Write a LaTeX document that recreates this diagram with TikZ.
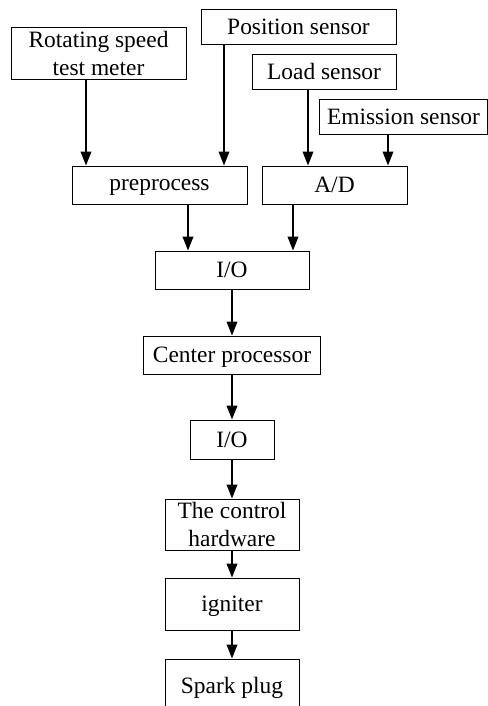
\documentclass[tikz,border=0pt]{standalone}
\usepackage{fontspec}
\setmainfont{Liberation Serif}
\usetikzlibrary{arrows.meta, positioning}

\begin{document}
\begin{tikzpicture}[x=0.03cm, y=-0.03cm,
    box/.style={draw, line width=0.7pt, inner sep=0pt, align=center, text depth=0pt,
      font=\fontsize{20}{24}\selectfont},
    arr/.style={line width=1.7pt, -{Triangle[length=12pt, width=9pt]}}]
        \clip (0,0) rectangle (488,706);
        % sensors on top
        \node[box, minimum width=175*0.03cm, minimum height=52*0.03cm] (rot) at (98.5,53) {Rotating speed\\test meter};
        \node[box, minimum width=195*0.03cm, minimum height=35*0.03cm] (pos) at (298.5,26.5) {Position sensor};
        \node[box, minimum width=144*0.03cm, minimum height=35*0.03cm] (load) at (324,71.5) {Load sensor};
        \node[box, minimum width=168*0.03cm, minimum height=35*0.03cm] (emis) at (403.5,116.5) {Emission sensor};
        % conversion
        \node[box, minimum width=175*0.03cm, minimum height=38*0.03cm] (pre) at (159.5,185) {preprocess};
        \node[box, minimum width=145*0.03cm, minimum height=38*0.03cm] (ad) at (334.5,185) {A/D};
        % processing chain
        \node[box, minimum width=154*0.03cm, minimum height=38*0.03cm] (io1) at (232,270) {I/O};
        \node[box, minimum width=177*0.03cm, minimum height=38*0.03cm] (cpu) at (232,355) {Center processor};
        \node[box, minimum width=84*0.03cm, minimum height=39*0.03cm] (io2) at (232,439.5) {I/O};
        \node[box, minimum width=134*0.03cm, minimum height=51*0.03cm] (hw) at (232,524.5) {The control\\hardware};
        \node[box, minimum width=134*0.03cm, minimum height=52*0.03cm] (ign) at (232,604) {igniter};
        \node[box, minimum width=134*0.03cm, minimum height=52*0.03cm] (plug) at (232,685) {Spark plug};
        % arrows
        \draw[arr] ([shift={(-12.5,0)}]rot.south) -- ([shift={(-12.5,0)}]rot.south |- pre.north);
        \draw[arr] ([shift={(-74.5,0)}]pos.south) -- ([shift={(-74.5,0)}]pos.south |- pre.north);
        \draw[arr] ([shift={(-16,0)}]load.south) -- ([shift={(-16,0)}]load.south |- ad.north);
        \draw[arr] ([shift={(-15.5,0)}]emis.south) -- ([shift={(-15.5,0)}]emis.south |- ad.north);
        \draw[arr] ([shift={(28.5,0)}]pre.south) -- ([shift={(28.5,0)}]pre.south |- io1.north);
        \draw[arr] ([shift={(-41.5,0)}]ad.south) -- ([shift={(-41.5,0)}]ad.south |- io1.north);
        \draw[arr] (io1.south) -- (io1.south |- cpu.north);
        \draw[arr] (cpu.south) -- (cpu.south |- io2.north);
        \draw[arr] (io2.south) -- (io2.south |- hw.north);
        \draw[arr] (hw.south) -- (hw.south |- ign.north);
        \draw[arr] (ign.south) -- (ign.south |- plug.north);
      \end{tikzpicture}
\end{document}
